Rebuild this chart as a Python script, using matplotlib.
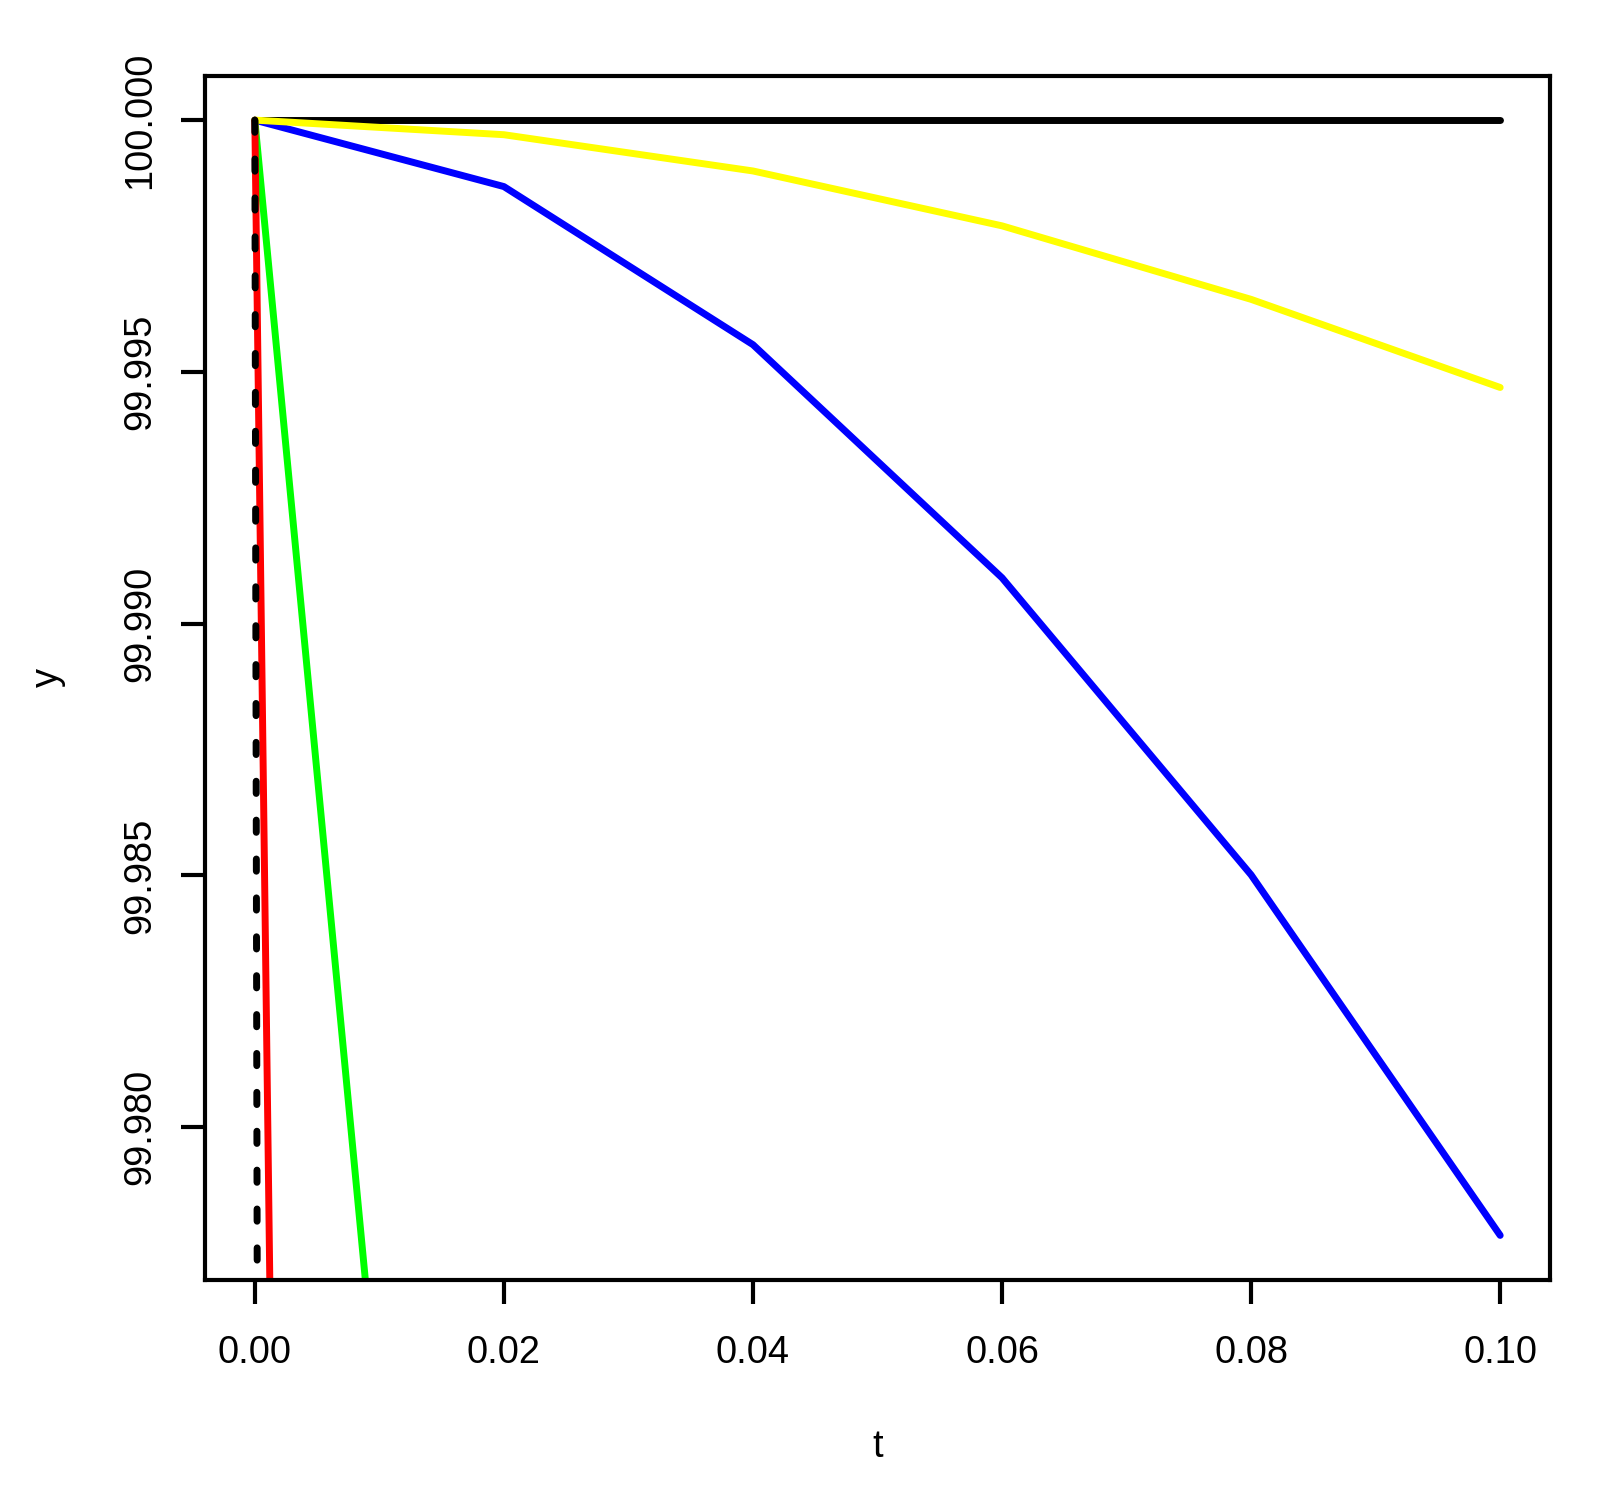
import matplotlib
matplotlib.use("Agg")
import matplotlib.pyplot as plt

plt.rcParams['font.family'] = ['Liberation Sans', 'DejaVu Sans']
plt.rcParams['lines.scale_dashes'] = False

# Data
t = [0.00, 0.02, 0.04, 0.06, 0.08, 0.10]
y_black = [100.0, 100.0, 100.0, 100.0, 100.0, 100.0]
y_blue = [100.0, 99.99868, 99.99554, 99.99091, 99.98501, 99.97785]
y_yellow = [100.0, 99.99971, 99.99899, 99.99790, 99.99644, 99.99469]
t_steep = [0.00, 0.02]
y_green = [100.0, 99.9481]
y_red = [100.0, 99.617]
y_dashed = [100.0, 97.61]

xticks = [0.00, 0.02, 0.04, 0.06, 0.08, 0.10]
xticklabels = ["0.00", "0.02", "0.04", "0.06", "0.08", "0.10"]
yticks = [99.980, 99.985, 99.990, 99.995, 100.000]
yticklabels = ["99.980", "99.985", "99.990", "99.995", "100.000"]

W, H, DPI = 1599, 1495, 200
fig = plt.figure(figsize=(W / DPI, H / DPI), dpi=DPI)
fig.patch.set_facecolor('white')
ax = fig.add_axes([205 / W, 1 - 1280 / H, (1550 - 205) / W, (1280 - 75.5) / H])

lw = 2.5
kw = dict(linewidth=lw, solid_capstyle='round', solid_joinstyle='round')
ax.plot(t, y_black, color='black', **kw)
ax.plot(t, y_blue, color='#0000ff', **kw)
ax.plot(t, y_yellow, color='#ffff00', **kw)
ax.plot(t_steep, y_green, color='#00ff00', **kw)
ax.plot(t_steep, y_red, color='#ff0000', **kw)
ax.plot(t_steep, y_dashed, color='black', linewidth=lw,
        linestyle=(0, (4.4, 9.6)), dash_capstyle='round')

# R-style 4% axis expansion based on the plotted range
xmin, xmax = min(t), max(t)
xr = xmax - xmin
ax.set_xlim(xmin - 0.04 * xr, xmax + 0.04 * xr)
ymin, ymax = min(y_blue), max(y_black)
yr = ymax - ymin
ax.set_ylim(ymin - 0.04 * yr, ymax + 0.04 * yr)

ax.set_xticks(xticks)
ax.set_xticklabels(xticklabels)
ax.set_yticks(yticks)
ax.set_yticklabels(yticklabels, rotation=90, va='center')

fs = 13.7
ax.tick_params(axis='both', length=8.7, width=1.5, labelsize=fs, color='black')
ax.tick_params(axis='x', pad=11.0)
ax.tick_params(axis='y', pad=8.0)
for s in ax.spines.values():
    s.set_linewidth(1.5)
    s.set_color('black')

ax.set_xlabel('t', fontsize=fs, va='center')
ax.xaxis.set_label_coords(0.5, (1280 - 1447) / (1280 - 75.5))
ax.set_ylabel('y', fontsize=fs, va='center')
ax.yaxis.set_label_coords((48 - 205) / (1550 - 205), 0.5)

fig.savefig('out.png', dpi=DPI, facecolor='white')
